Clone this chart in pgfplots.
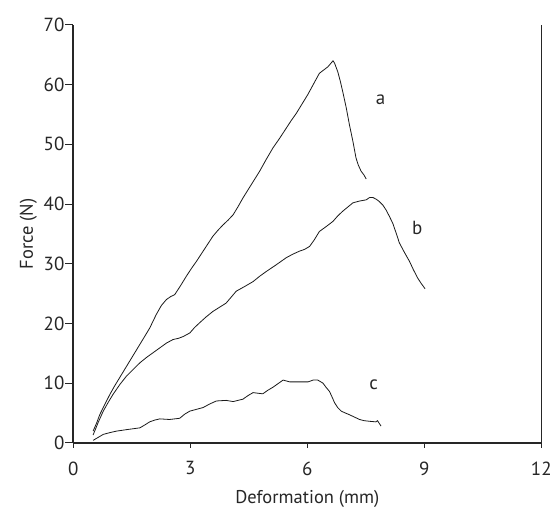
\documentclass[border=0pt]{standalone}
\usepackage{pgfplots}
\pgfplotsset{compat=1.18}
\usepackage{fontspec}
\setmainfont{PT Sans}
\begin{document}
\begin{tikzpicture}
\begin{axis}[
  scale only axis,
  width=468.7pt, height=418.3pt,
  xmin=0, xmax=12, ymin=0, ymax=70,
  xtick={0,3,6,9,12}, ytick={0,10,...,70},
  axis x line*=bottom,
  axis y line*=left,
  tick align=outside,
  xtick style={/pgfplots/major tick length=5pt, line width=1pt, color=black!85},
  ytick style={/pgfplots/major tick length=8pt, line width=1pt, color=black!85},
  axis line style={line width=1.6pt, color=black!85, -},
  /pgf/number format/assume math mode=true,
  tick label style={font=\fontsize{19}{21}\selectfont, text=black!85},
  label style={font=\fontsize{18.5}{21}\selectfont, text=black!85},
  xlabel={Deformation (mm)},
  ylabel={Force (N)},
  xticklabel style={yshift=-11pt},
  yticklabel style={xshift=-1pt},
  xlabel style={yshift=-8pt},
  ylabel style={yshift=0pt},
  clip=false,
]
% curve a
\addplot[black!90, line width=0.8pt] coordinates {
(0.51,1.95)(0.60,3.3)(0.68,4.7)(0.80,6.3)(0.94,8.1)(1.06,9.5)(1.19,10.9)(1.32,12.3)(1.45,13.7)(1.58,15.1)(1.71,16.5)(1.84,17.9)(1.96,19.2)(2.13,21.5)(2.26,23.0)(2.39,24.0)(2.50,24.5)(2.60,24.8)(2.75,26.3)(2.90,27.9)(3.03,29.2)(3.16,30.4)(3.37,32.5)(3.58,34.6)(3.71,35.6)(3.84,36.5)(3.97,37.3)(4.10,38.2)(4.22,39.5)(4.35,41.0)(4.56,43.2)(4.78,45.5)(4.95,47.5)(5.12,49.4)(5.29,51.0)(5.46,52.7)(5.59,54.0)(5.72,55.2)(5.86,56.7)(6.01,58.3)(6.16,60.1)(6.31,61.9)(6.43,62.5)(6.53,63.0)(6.66,64.0)(6.70,63.6)(6.78,62.2)(6.85,60.5)(6.91,58.8)(7.00,56.1)(7.08,53.3)(7.17,50.5)(7.25,47.7)(7.31,46.5)(7.38,45.5)(7.45,44.9)(7.51,44.2)
};
% curve b
\addplot[black!90, line width=0.8pt] coordinates {
(0.51,1.3)(0.64,3.4)(0.77,5.3)(0.90,6.8)(1.02,8.1)(1.20,9.8)(1.37,11.2)(1.54,12.3)(1.71,13.4)(1.88,14.3)(2.05,15.1)(2.22,15.9)(2.39,16.7)(2.56,17.3)(2.70,17.5)(2.82,17.8)(2.99,18.4)(3.11,19.3)(3.24,20.1)(3.41,21.1)(3.58,22.0)(3.75,22.7)(3.92,23.4)(4.05,24.4)(4.18,25.4)(4.40,26.2)(4.61,27.0)(4.78,27.9)(4.95,28.7)(5.20,29.8)(5.46,31.0)(5.63,31.6)(5.80,32.1)(5.93,32.4)(6.06,32.9)(6.18,34.0)(6.31,35.4)(6.48,36.2)(6.66,37.1)(6.78,38.0)(6.91,38.8)(7.04,39.5)(7.17,40.2)(7.34,40.5)(7.51,40.7)(7.60,41.1)(7.68,41.1)(7.77,40.8)(7.85,40.4)(7.94,39.8)(8.02,39.0)(8.10,38.0)(8.19,36.8)(8.28,35.1)(8.36,33.5)(8.49,31.9)(8.62,30.4)(8.72,29.0)(8.83,27.6)(8.92,26.7)(9.02,25.8)
};
% curve c
\addplot[black!90, line width=0.8pt] coordinates {
(0.51,0.4)(0.64,0.9)(0.77,1.4)(0.94,1.7)(1.11,1.95)(1.37,2.2)(1.71,2.5)(1.84,3.0)(1.96,3.5)(2.09,3.8)(2.22,4.0)(2.47,3.9)(2.73,4.1)(2.86,4.8)(2.99,5.3)(3.16,5.6)(3.33,5.9)(3.50,6.5)(3.67,7.0)(3.92,7.1)(4.10,6.9)(4.35,7.3)(4.48,7.9)(4.61,8.4)(4.86,8.2)(4.99,8.8)(5.12,9.3)(5.25,9.9)(5.38,10.5)(5.55,10.2)(6.02,10.2)(6.15,10.5)(6.27,10.5)(6.40,10.0)(6.48,9.3)(6.57,8.6)(6.64,7.6)(6.70,6.7)(6.78,5.9)(6.87,5.3)(6.97,5.0)(7.08,4.7)(7.21,4.3)(7.34,3.9)(7.46,3.7)(7.59,3.6)(7.76,3.5)(7.80,3.7)(7.85,3.2)(7.89,2.8)
};
\draw[line width=1.6pt, black!85] (rel axis cs:1,0) -- (rel axis cs:1,1);
\node[font=\fontsize{19}{21}\selectfont, text=black!85] at (axis cs:7.88,57.4) {a};
\node[font=\fontsize{19}{21}\selectfont, text=black!85] at (axis cs:8.82,36.0) {b};
\node[font=\fontsize{19}{21}\selectfont, text=black!85] at (axis cs:7.70,9.8) {c};
\end{axis}
\path (-73.3pt,-62.7pt) rectangle (481.7pt,443.3pt);
\end{tikzpicture}
\end{document}
